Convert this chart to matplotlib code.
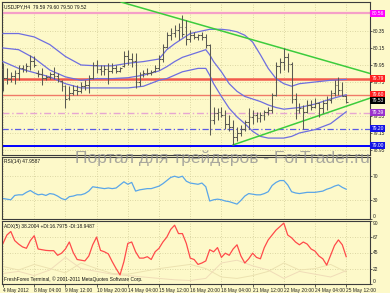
import matplotlib
matplotlib.use('Agg')
import matplotlib.pyplot as plt
import matplotlib.transforms as mtransforms

plt.rcParams['font.family'] = ['Liberation Sans', 'DejaVu Sans']

# ---------------- data ----------------
highs = [79.97, 79.91, 79.87, 79.89, 79.95, 79.95, 79.97, 80.07, 80.05, 79.89,
         79.91, 79.83, 79.87, 79.93, 79.85, 79.77, 79.71, 79.70, 79.71, 79.71,
         79.75, 79.77, 79.83, 79.99, 80.01, 79.95, 79.95, 79.97, 79.97, 79.95,
         79.93, 80.11, 80.13, 80.09, 80.09, 79.87, 79.89, 79.91, 79.89, 79.95,
         80.07, 80.20, 80.34, 80.38, 80.42, 80.44, 80.54, 80.48, 80.36, 80.34,
         80.32, 80.34, 80.32, 80.20, 79.46, 79.44, 79.46, 79.42, 79.36, 79.30,
         79.22, 79.24, 79.30, 79.44, 79.42, 79.40, 79.40, 79.42, 79.46, 79.62,
         79.99, 80.03, 80.15, 80.09, 79.99, 79.62, 79.50, 79.48, 79.54, 79.54,
         79.56, 79.52, 79.54, 79.58, 79.66, 79.77, 79.81, 79.75, 79.60]
lows = [79.64, 79.73, 79.75, 79.73, 79.77, 79.87, 79.87, 79.89, 79.93, 79.81,
        79.71, 79.77, 79.79, 79.79, 79.75, 79.64, 79.44, 79.54, 79.60, 79.60,
        79.62, 79.66, 79.62, 79.79, 79.85, 79.83, 79.83, 79.73, 79.85, 79.85,
        79.87, 79.93, 79.95, 79.93, 79.68, 79.70, 79.81, 79.83, 79.83, 79.87,
        79.89, 79.99, 80.15, 80.24, 80.28, 80.24, 80.28, 80.19, 80.22, 80.26,
        80.24, 80.24, 80.15, 79.13, 79.26, 79.30, 79.34, 79.20, 79.17, 79.01,
        79.05, 79.11, 79.17, 79.20, 79.26, 79.28, 79.28, 79.30, 79.36, 79.38,
        79.58, 79.85, 79.89, 79.87, 79.50, 79.32, 79.38, 79.20, 79.38, 79.42,
        79.44, 79.34, 79.38, 79.42, 79.50, 79.58, 79.60, 79.58, 79.50]
opens = [79.90, 79.80, 79.78, 79.82, 79.86, 79.92, 79.90, 79.94, 80.00, 79.86,
         79.84, 79.80, 79.81, 79.84, 79.82, 79.76, 79.70, 79.56, 79.62, 79.66,
         79.64, 79.70, 79.72, 79.80, 79.95, 79.90, 79.88, 79.90, 79.88, 79.92,
         79.88, 79.94, 80.06, 80.02, 80.00, 79.75, 79.84, 79.85, 79.86, 79.88,
         79.92, 80.02, 80.16, 80.30, 80.33, 80.36, 80.40, 80.40, 80.26, 80.30,
         80.28, 80.30, 80.28, 80.18, 79.30, 79.38, 79.40, 79.36, 79.26, 79.22,
         79.10, 79.15, 79.20, 79.28, 79.34, 79.36, 79.33, 79.36, 79.40, 79.42,
         79.60, 79.94, 79.98, 80.04, 79.96, 79.55, 79.42, 79.44, 79.40, 79.48,
         79.46, 79.50, 79.44, 79.50, 79.54, 79.62, 79.72, 79.66, 79.59]
closes = [79.80, 79.78, 79.82, 79.86, 79.92, 79.90, 79.94, 80.00, 79.95, 79.84,
          79.80, 79.81, 79.84, 79.82, 79.78, 79.70, 79.55, 79.62, 79.66, 79.64,
          79.70, 79.72, 79.80, 79.95, 79.90, 79.88, 79.90, 79.88, 79.92, 79.88,
          79.92, 80.06, 80.02, 80.00, 79.75, 79.84, 79.85, 79.86, 79.87, 79.92,
          80.02, 80.16, 80.30, 80.33, 80.36, 80.40, 80.32, 80.26, 80.30, 80.28,
          80.30, 80.28, 80.18, 79.30, 79.38, 79.40, 79.36, 79.26, 79.22, 79.10,
          79.15, 79.20, 79.28, 79.34, 79.36, 79.33, 79.36, 79.40, 79.42, 79.60,
          79.94, 79.98, 80.04, 79.96, 79.55, 79.42, 79.44, 79.40, 79.48, 79.46,
          79.50, 79.44, 79.50, 79.54, 79.62, 79.72, 79.66, 79.59, 79.52]

bb_idx = [0, 4, 8, 12, 16, 20, 24, 28, 32, 36, 40, 42, 44, 46, 48, 50, 52, 53,
          54, 56, 58, 60, 62, 64, 66, 68, 70, 72, 74, 76, 80, 84, 88]
bb_upper = [80.32, 80.32, 80.28, 80.19, 80.05, 79.95, 79.94, 79.94, 79.97, 79.99,
            80.02, 80.13, 80.20, 80.26, 80.32, 80.34, 80.36, 80.37, 80.37, 80.37,
            80.36, 80.34, 80.30, 80.22, 80.07, 79.91, 79.79, 79.73, 79.70, 79.73,
            79.75, 79.77, 79.78]
bb_mid = [80.15, 80.13, 80.03, 79.89, 79.81, 79.77, 79.79, 79.79, 79.80, 79.83,
          79.88, 79.93, 79.99, 80.04, 80.07, 80.10, 80.13, 80.07, 79.99, 79.87,
          79.73, 79.64, 79.58, 79.55, 79.52, 79.48, 79.45, 79.43, 79.44, 79.45,
          79.49, 79.55, 79.60]
bb_lower = [79.99, 79.91, 79.86, 79.81, 79.73, 79.68, 79.68, 79.68, 79.68, 79.70,
            79.77, 79.79, 79.83, 79.87, 79.89, 79.91, 79.91, 79.83, 79.73, 79.58,
            79.44, 79.34, 79.26, 79.17, 79.11, 79.09, 79.09, 79.09, 79.11, 79.15,
            79.19, 79.26, 79.40]

# trend lines (bar index, price)
trend_down = [(30.3, 80.69), (94.1, 79.85)]
trend_up = [(59.0, 79.01), (94.1, 79.56)]

# horizontal levels: (price, line color, style, width, box color)
levels = [(80.56, '#f5a0c8', '-', 1.6, '#ff00ff'),
          (79.79, '#f25a4c', '-', 1.8, '#ff1e1e'),
          (79.60, '#f07a68', '-', 1.0, '#ff1e1e'),
          (79.39, '#e6a6d2', (0, (5, 2, 1, 2)), 1.0, '#9a32cd'),
          (79.20, '#5a5ae6', (0, (5, 2, 1, 2)), 0.9, '#1414e6'),
          (79.00, '#0000ff', '-', 1.4, '#1414e6')]
last_price = 79.53

rsi = [33, 32, 31, 38, 39, 39, 43, 46, 42, 39, 40, 38, 41, 40, 37, 33, 31, 36, 37, 39,
       39, 41, 45, 52, 51, 50, 49, 50, 49, 50, 55, 60, 56, 59, 45, 47, 48, 49, 49, 51,
       53, 57, 62, 67, 69, 67, 69, 61, 58, 57, 56, 58, 52, 29, 31, 32, 31, 29, 28, 26,
       24, 30, 37, 41, 40, 39, 39, 41, 44, 54, 59, 62, 62, 55, 44, 42, 41, 42, 43, 43,
       43, 44, 45, 48, 50, 53, 55, 51, 48]

adx = [58, 70, 75, 62, 57, 53, 51, 62, 69, 50, 49, 48, 47.6, 47.6, 41, 44, 50, 60, 45, 35,
       34, 33, 40, 56, 67, 48, 46, 43, 32, 22, 13, 32, 58, 60, 46, 37, 37, 39, 35, 46,
       51, 60, 67, 78, 84, 72, 72, 58, 37, 35, 28, 30, 33, 49, 46, 52, 38, 44, 41, 50,
       56, 40, 30, 36, 44, 38, 36, 52, 63, 70, 77, 82, 87, 70, 66, 60, 56, 60, 57, 50,
       47, 40, 36, 27, 41, 55, 63, 56, 39]
di_idx = list(range(0, 89, 4))
plus_di = [25, 20, 28, 22, 16, 30, 22, 15, 14, 18, 22, 25, 28, 22, 10, 8, 12, 18, 30, 20, 22, 28, 17]
minus_di = [15, 18, 12, 20, 38, 22, 18, 14, 12, 10, 8, 6, 5, 8, 30, 34, 26, 20, 8, 18, 14, 10, 19]

xtick_bars = [0, 8, 16, 24, 32, 40, 48, 56, 64, 72, 80, 88]
xtick_labels = ['4 May 2012', '8 May 04:00', '9 May 12:00', '10 May 20:00', '14 May 04:00',
                '15 May 12:00', '16 May 20:00', '18 May 04:00', '21 May 12:00',
                '22 May 20:00', '24 May 04:00', '25 May 12:00']
price_ticks = [78.95, 79.15, 79.35, 79.55, 79.75, 79.95, 80.15, 80.35]
hidden_price_ticks = [79.55]
rsi_ticks = [0, 30, 70]
adx_ticks = [0, 22, 45, 67, 90]

# ---------------- figure ----------------
W, H = 390, 293
BG = '#fdf9c9'
GRID = '#d2cc98'
SPINE = '#3c3c3c'
FS = 3.5
fig = plt.figure(figsize=(W / 100, H / 100), dpi=100)
fig.patch.set_facecolor(BG)


def rect(x0, y0, x1, y1):
    return [x0 / W, 1 - y1 / H, (x1 - x0) / W, (y1 - y0) / H]


XL = (-0.26, 94.1)

ax = fig.add_axes(rect(2, 2, 370, 155))
ar = fig.add_axes(rect(2, 157, 370, 219))
aa = fig.add_axes(rect(2, 221, 370, 284))

for a in (ax, ar, aa):
    a.set_facecolor(BG)
    a.set_xlim(*XL)
    for s in a.spines.values():
        s.set_color(SPINE)
        s.set_linewidth(0.8)
    a.yaxis.tick_right()
    a.tick_params(axis='y', labelsize=FS, length=1.5, width=0.5, colors='#222222', pad=0.8)
    a.set_xticks(xtick_bars)
    a.grid(True, color=GRID, linestyle=(0, (1, 2)), linewidth=0.6)
    a.set_axisbelow(True)

ax.tick_params(axis='x', length=0, labelbottom=False)
ar.tick_params(axis='x', length=0, labelbottom=False)
aa.tick_params(axis='x', labelsize=FS, length=2, width=0.5, colors='#222222', pad=0.8)
aa.set_xticklabels(xtick_labels, ha='left')

# ---- main chart ----
ax.set_ylim(78.891, 80.691)
ax.set_yticks(price_ticks)
ax.set_yticklabels(['' if p in hidden_price_ticks else f'{p:.2f}' for p in price_ticks])

idx = list(range(len(highs)))
bar_c = '#5a5a52'
ax.vlines(idx, lows, highs, color=bar_c, linewidth=0.75, zorder=4)
ax.hlines(opens, [i - 0.45 for i in idx], idx, color=bar_c, linewidth=0.75, zorder=4)
ax.hlines(closes, idx, [i + 0.45 for i in idx], color=bar_c, linewidth=0.75, zorder=4)

for band in (bb_upper, bb_mid, bb_lower):
    ax.plot(bb_idx, band, color='#6e6ee0', linewidth=0.9, zorder=3)

for price, col, ls, lw, box in levels:
    ax.axhline(price, color=col, linestyle=ls, linewidth=lw, zorder=2)

for tl in (trend_down, trend_up):
    ax.plot([p[0] for p in tl], [p[1] for p in tl], color='#3ccc3c', linewidth=1.1, zorder=3)

blend = mtransforms.blended_transform_factory(ax.transAxes, ax.transData)
for price, col, ls, lw, box in levels:
    ax.text(1.004, price, f'{price:.2f}', transform=blend, fontsize=FS, color='white',
            va='center', ha='left', zorder=10, clip_on=False,
            bbox=dict(boxstyle='square,pad=0.2', fc=box, ec='none'))
ax.text(1.004, last_price, f'{last_price:.2f}', transform=blend, fontsize=FS, color='white',
        va='center', ha='left', zorder=10, clip_on=False,
        bbox=dict(boxstyle='square,pad=0.2', fc='#000000', ec='none'))

ax.text(0.006, 0.985, 'USDJPY,H4  79.59 79.60 79.50 79.52', transform=ax.transAxes,
        fontsize=FS, va='top', ha='left', color='#111111')

# ---- RSI ----
ar.set_ylim(0, 100)
ar.set_yticks(rsi_ticks)
ar.plot(range(len(rsi)), rsi, color='#5aa6e8', linewidth=0.9)
ar.text(0.006, 0.96, 'RSI(14) 47.9587', transform=ar.transAxes, fontsize=FS,
        va='top', ha='left', color='#111111')
ar.get_yticklabels()[0].set_va('bottom')

# ---- ADX ----
aa.set_ylim(0, 90)
aa.set_yticks(adx_ticks)
aa.plot(di_idx, plus_di, color='#ece2b0', linewidth=0.7)
aa.plot(di_idx, minus_di, color='#f0dcb8', linewidth=0.7)
aa.plot(range(len(adx)), adx, color='#ff4a4a', linewidth=0.9)
aa.text(0.006, 0.96, 'ADX(5) 38.2004 +DI:16.7975 -DI:18.9487', transform=aa.transAxes,
        fontsize=FS, va='top', ha='left', color='#111111')
aa.text(0.006, 0.03, 'FreshForex Terminal, \u00a9 2001-2011 MetaQuotes Software Corp.',
        transform=aa.transAxes, fontsize=FS, va='bottom', ha='left', color='#111111')
aa.get_yticklabels()[0].set_va('bottom')
aa.get_yticklabels()[-1].set_va('top')

# watermark
fig.text(75 / W, 1 - 163 / H, 'Портал для трейдеров - ForTrader.ru', fontsize=12.5,
         color='#939393', alpha=0.8, ha='left', va='baseline', zorder=20)

fig.savefig('out.png', dpi=100, facecolor=BG)
